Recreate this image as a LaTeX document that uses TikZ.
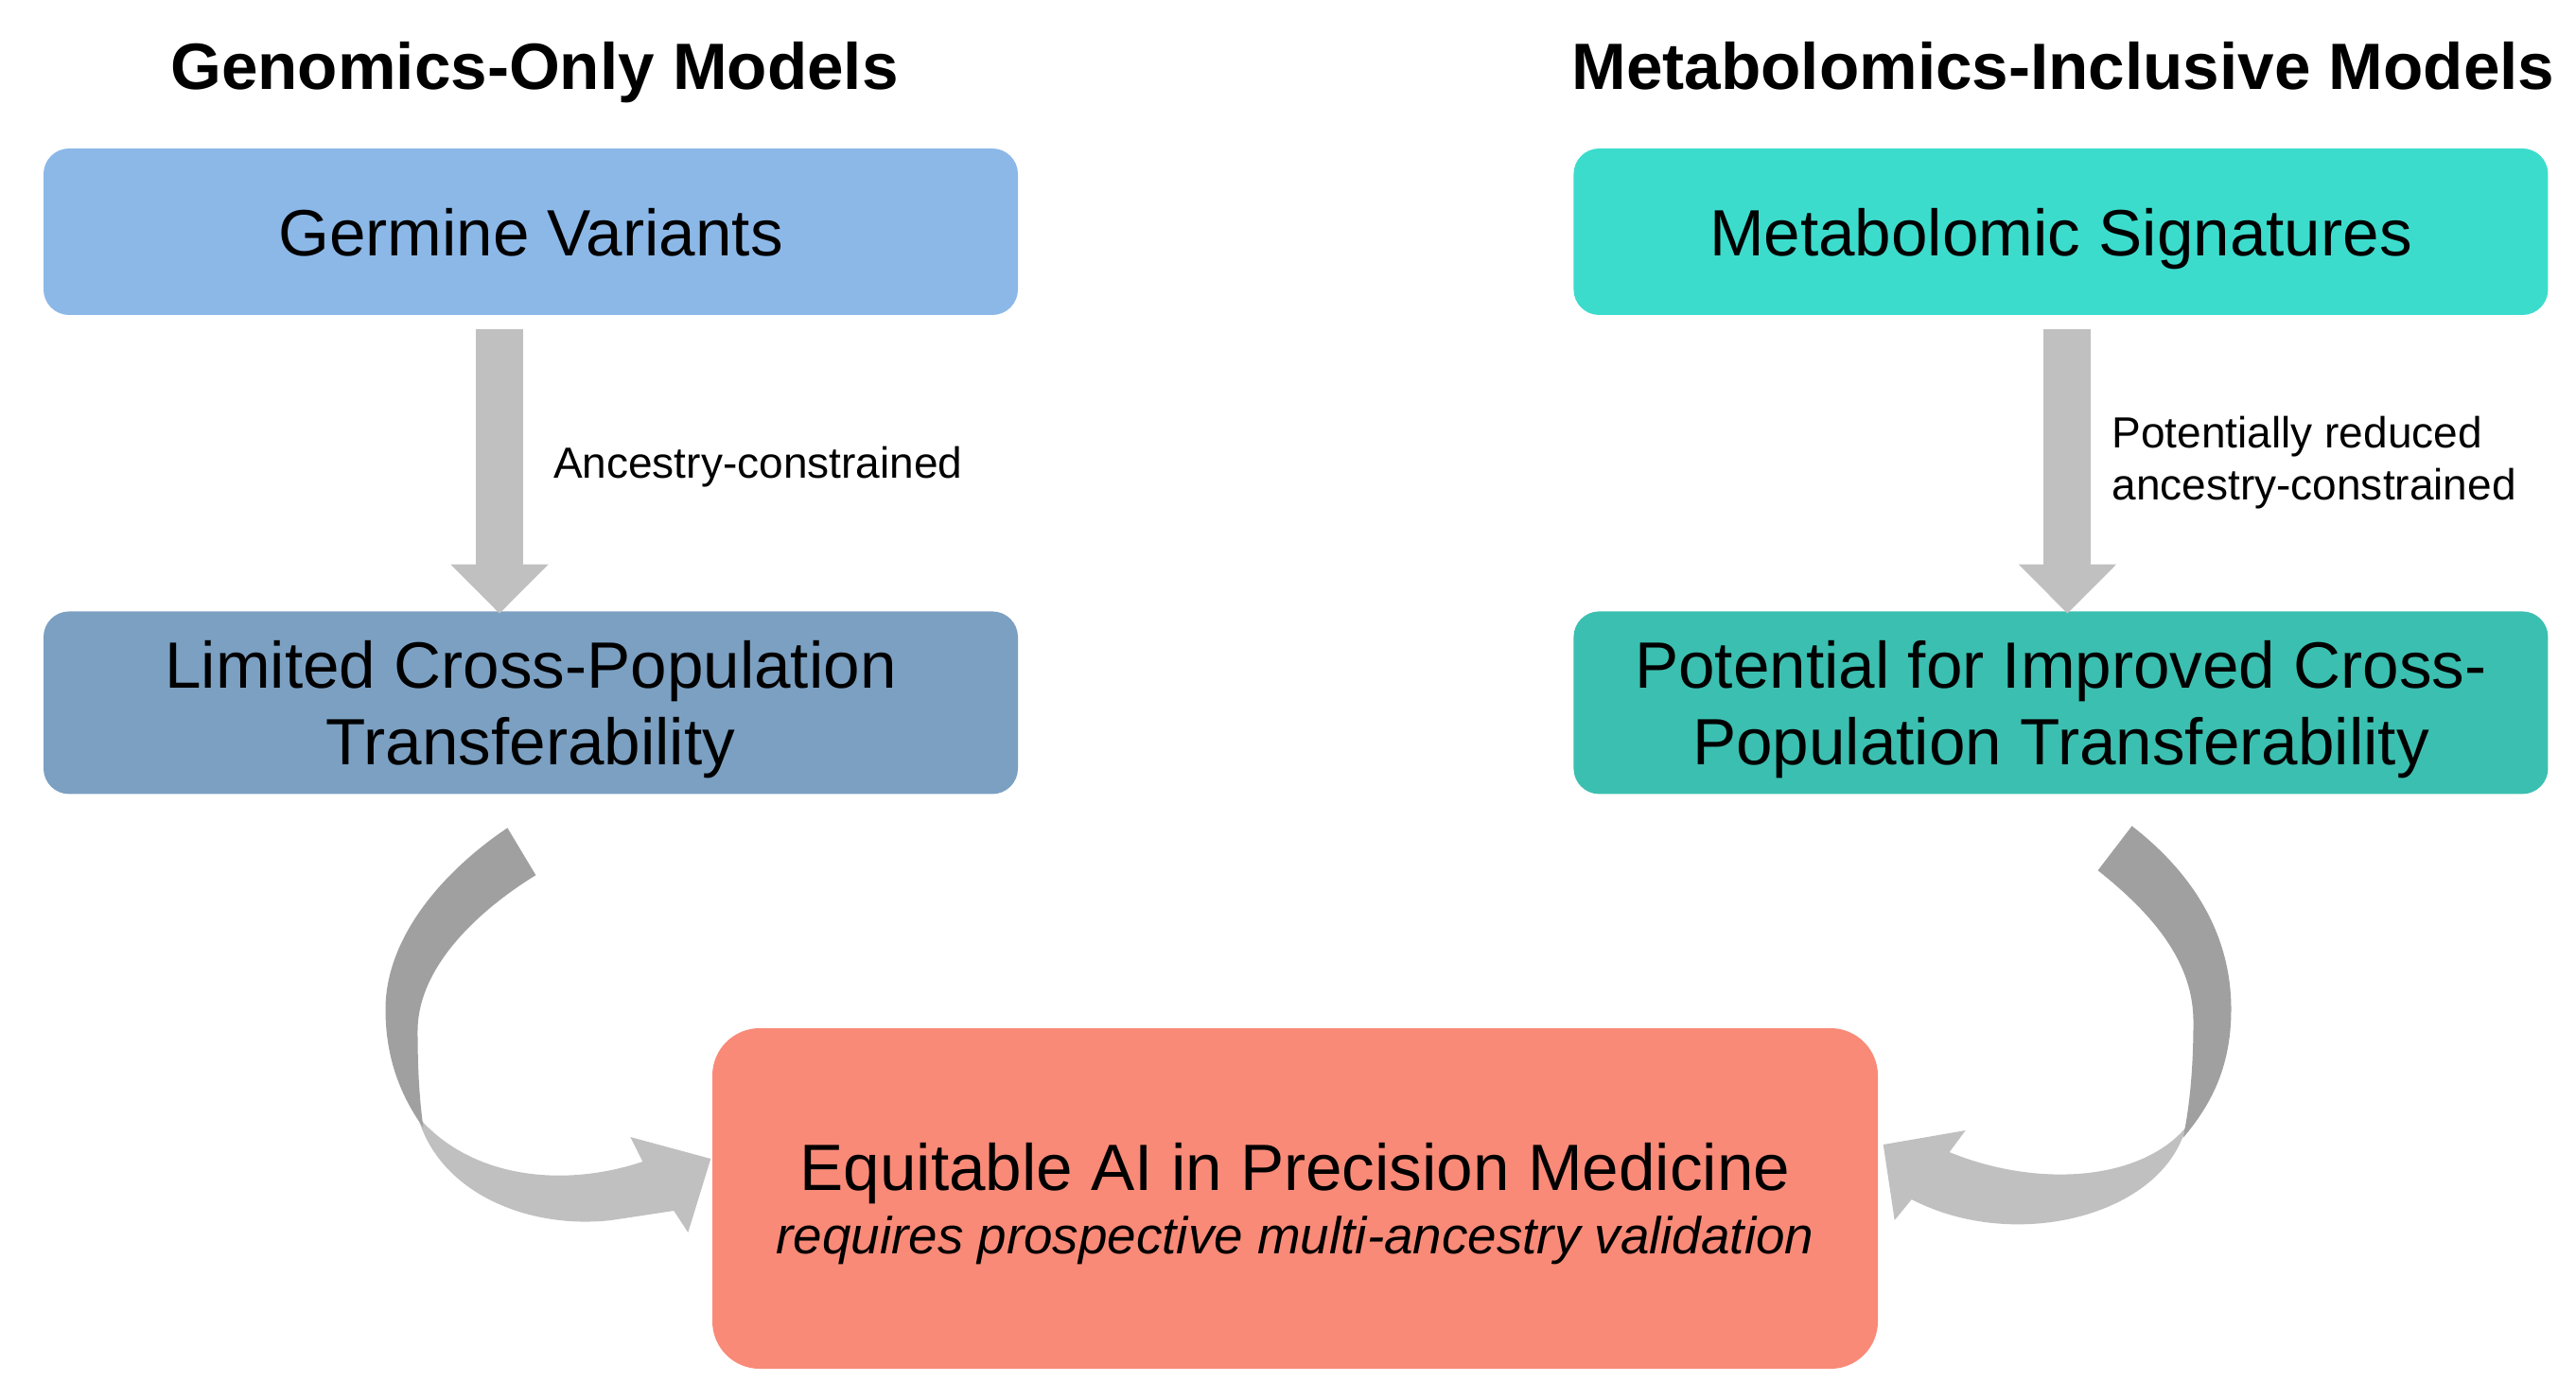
\documentclass[tikz,border=0pt]{standalone}
\usepackage{fontspec}
\setmainfont{Liberation Sans}
\usetikzlibrary{positioning}
\usetikzlibrary {arrows.meta}
\definecolor{germblue}{HTML}{8CB8E8}
\definecolor{metateal}{HTML}{3CDCCC}
\definecolor{limsteel}{HTML}{7BA0C2}
\definecolor{potteal}{HTML}{3BBFB0}
\definecolor{eqsalmon}{HTML}{F98A78}
\definecolor{arrowgray}{HTML}{C0C0C0}
\definecolor{curlgray}{HTML}{A0A0A0}
\tikzset{flowbox/.style={rectangle,draw=none,rounded corners=0.27cm,
inner sep=0pt,minimum width=10.3cm,text depth=0pt,align=center,
font=\fontsize{19.7pt}{23.3pt}\selectfont}}
\tikzset{colhead/.style={rectangle,draw=none,inner sep=0pt,
font=\fontsize{19.7pt}{23.3pt}\selectfont\bfseries}}
\tikzset{flowlabel/.style={rectangle,draw=none,inner sep=0pt,outer sep=0pt,text=black,
text depth=0pt,align=left,font=\fontsize{13.1pt}{15.9pt}\selectfont}}
\tikzset{downarrow/.style={draw=arrowgray,line width=0.5cm,
-{Triangle[width=1cm,length=0.52cm]}}}
\tikzset{curllight/.style={fill=arrowgray}}
\tikzset{curldark/.style={fill=curlgray}}

\begin{document}
\begin{tikzpicture}
        \useasboundingbox (0,0) rectangle (27.23,-14.79);

        \node[colhead, anchor=base] (headGen) at (5.65,-0.95) {Genomics-Only Models};
        \node[colhead, anchor=base] (headMeta) at (21.81,-0.95) {Metabolomics-Inclusive Models};

        \node[flowbox, fill=germblue, minimum height=1.76cm] (boxGerm) at (5.61,-2.45) {Germine Variants};
        \node[flowbox, fill=metateal, minimum height=1.76cm] (boxMeta) [right=5.86cm of boxGerm] {Metabolomic Signatures};

        \node[flowbox, fill=limsteel, minimum height=1.93cm] (boxLim) [below=3.12cm of boxGerm] {Limited Cross-Population\\Transferability};
        \node[flowbox, fill=potteal, minimum height=1.93cm] (boxPot) [below=3.12cm of boxMeta] {Potential for Improved Cross-\\Population Transferability};

        \node[flowbox, fill=eqsalmon, rounded corners=0.5cm, minimum width=12.32cm, minimum height=3.6cm,
              font=\fontsize{19.7pt}{19pt}\selectfont] (boxEq) at (13.69,-12.67)
              {Equitable AI in Precision Medicine\\{\fontsize{15.6pt}{19pt}\selectfont\itshape requires prospective multi-ancestry validation}};

        \draw[downarrow] ([xshift=-0.33cm,yshift=-0.14cm]boxGerm.south) --node[flowlabel, right=0.57cm, pos=0.47] {Ancestry-constrained} ([xshift=-0.33cm,yshift=-0.03cm]boxLim.north);
        \draw[downarrow] ([xshift=0.07cm,yshift=-0.14cm]boxMeta.south) --node[flowlabel, right=0.47cm, pos=0.454] {Potentially reduced\\ancestry-constrained} ([xshift=0.07cm,yshift=-0.03cm]boxPot.north);

        \begin{scope}[shift={(boxEq.west)}, x=0.01cm, y=-0.01cm]
            \fill[curllight] (-311,-87) .. controls (-288,-5) and (-193,33) .. (-106,23) -- (-40,13) -- (-25,36) -- (-1,-42)
                -- (-86,-65) -- (-73,-39) .. controls (-153,-12) and (-253,-19) .. cycle;
            \fill[curldark] (-216,-392) .. controls (-283,-347) and (-345,-277) .. (-345,-200)
                .. controls (-345,-147) and (-328,-107) .. (-305,-75)
                .. controls (-308,-97) and (-311,-127) .. (-311,-177)
                .. controls (-311,-247) and (-243,-307) .. (-186,-342) -- cycle;
        \end{scope}

        \begin{scope}[shift={(boxEq.east)}, x=0.01cm, y=-0.01cm]
            \fill[curllight] (325,-75) .. controls (300,18) and (145,58) .. (35,1) -- (17,23) -- (5,-57)
                -- (92,-72) -- (75,-49) .. controls (165,-12) and (275,-17) .. cycle;
            \fill[curldark] (268,-394) .. controls (335,-342) and (373,-277) .. (373,-200)
                .. controls (373,-137) and (350,-97) .. (322,-64)
                .. controls (327,-87) and (333,-127) .. (333,-187)
                .. controls (333,-247) and (295,-297) .. (232,-347) -- cycle;
        \end{scope}

    \end{tikzpicture}
\end{document}
